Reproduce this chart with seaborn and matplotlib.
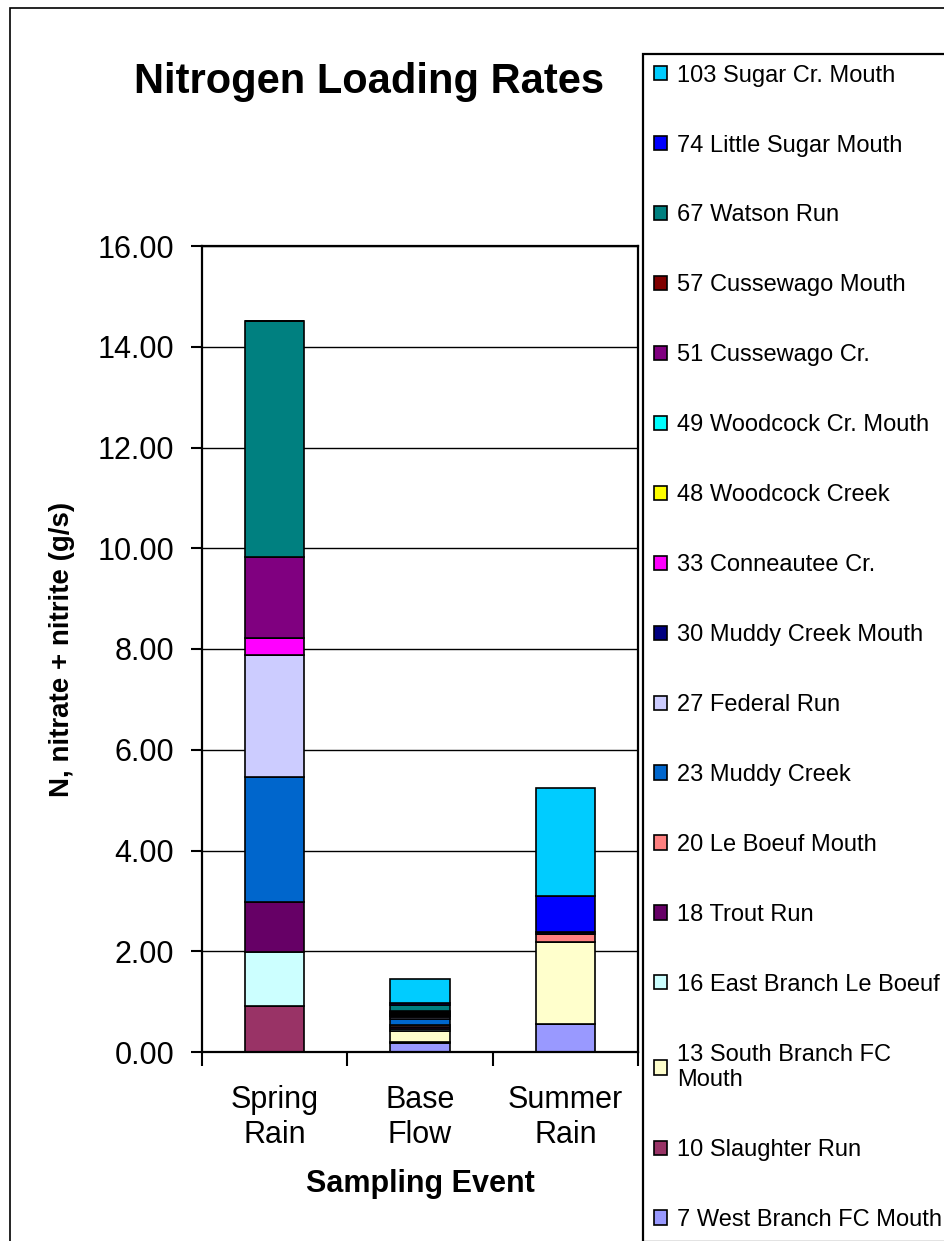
import numpy as np
import pandas as pd
import matplotlib
matplotlib.use('Agg')
import matplotlib.pyplot as plt
from matplotlib.patches import Patch, Rectangle
import seaborn as sns

# Sampling events (x categories)
events = ['Spring Rain', 'Base Flow', 'Summer Rain']
event_labels = ['Spring\nRain', 'Base\nFlow', 'Summer\nRain']

# Sites in legend order (top of legend = top of stack)
sites = ['103 Sugar Cr. Mouth', '74 Little Sugar Mouth', '67 Watson Run',
         '57 Cussewago Mouth', '51 Cussewago Cr.', '49 Woodcock Cr. Mouth',
         '48 Woodcock Creek', '33 Conneautee Cr.', '30 Muddy Creek Mouth',
         '27 Federal Run', '23 Muddy Creek', '20 Le Boeuf Mouth',
         '18 Trout Run', '16 East Branch Le Boeuf', '13 South Branch FC Mouth',
         '10 Slaughter Run', '7 West Branch FC Mouth']
legend_labels = [s if s != '13 South Branch FC Mouth' else '13 South Branch FC\nMouth'
                 for s in sites]
site_colors = ['#00CCFF', '#0000FF', '#008080', '#800000', '#800080', '#00FFFF',
               '#FFFF00', '#FF00FF', '#000080', '#CCCCFF', '#0066CC', '#FF8080',
               '#660066', '#CCFFFF', '#FFFFCC', '#993366', '#9999FF']

# N loading (g/s) per site, same order as sites
spring_rain = [0.00, 0.00, 4.69, 0.00, 1.60, 0.00, 0.00, 0.34, 0.00,
               2.43, 2.47, 0.00, 1.00, 1.07, 0.00, 0.91, 0.00]
base_flow = [0.46, 0.05, 0.11, 0.02, 0.02, 0.03, 0.02, 0.02, 0.02,
             0.03, 0.12, 0.04, 0.05, 0.04, 0.22, 0.02, 0.17]
summer_rain = [2.15, 0.72, 0.00, 0.00, 0.00, 0.00, 0.00, 0.00, 0.03,
               0.00, 0.00, 0.16, 0.00, 0.00, 1.63, 0.00, 0.56]

rows = []
for ev, vals in zip(events, [spring_rain, base_flow, summer_rain]):
    for site, v in zip(sites, vals):
        rows.append({'event': ev, 'site': site, 'load': v})
df = pd.DataFrame(rows)

sns.set_style('white')
plt.rcParams['font.family'] = ['Liberation Sans', 'DejaVu Sans']
for key in ['text.color', 'axes.labelcolor', 'xtick.color', 'ytick.color']:
    plt.rcParams[key] = 'black'

W, H = 945, 1241
fig = plt.figure(figsize=(W / 100, H / 100), dpi=100)
ax = fig.add_axes([202 / W, 1 - 1052 / H, 436 / W, 806 / H])

sns.histplot(data=df, x='event', hue='site', weights='load',
             hue_order=sites, palette=site_colors, multiple='stack',
             discrete=True, shrink=0.41, alpha=1, edgecolor='black',
             linewidth=1.2, legend=False, ax=ax)

ax.set_xlim(-0.5, 2.5)
ax.set_ylim(0, 16)
ax.set_yticks(np.arange(0, 16.01, 2))
ax.set_yticklabels([f'{v:.2f}' for v in np.arange(0, 16.01, 2)])
ax.yaxis.grid(True, color='black', linewidth=1.0)
ax.set_axisbelow(True)

ax.set_xticks([0, 1, 2])
ax.set_xticklabels(event_labels)
ax.set_xticks([-0.5, 0.5, 1.5, 2.5], minor=True)
ax.tick_params(axis='x', which='major', length=0, pad=24, labelsize=22)
ax.tick_params(axis='x', which='minor', length=10, width=1.5, direction='out',
               bottom=True, color='black')
ax.tick_params(axis='y', length=8, width=1.5, direction='out', left=True,
               pad=12, labelsize=22, color='black')

for sp in ax.spines.values():
    sp.set_visible(True)
    sp.set_color('black')
    sp.set_linewidth(1.6)

ax.set_xlabel('Sampling Event', fontsize=22, fontweight='bold', labelpad=14)
ax.set_ylabel('N, nitrate + nitrite (g/s)', fontsize=20, fontweight='bold',
              labelpad=16)

fig.text(369 / W, 1 - 82 / H, 'Nitrogen Loading Rates', fontsize=30,
         fontweight='bold', ha='center', va='center')

handles = [Patch(facecolor=c, edgecolor='black', linewidth=1.2) for c in site_colors]
leg = fig.legend(handles, legend_labels, loc='upper left',
                 bbox_to_anchor=(643 / W, 1 - 54 / H), borderaxespad=0,
                 fontsize=17, frameon=True, fancybox=False, framealpha=1,
                 edgecolor='black', handlelength=0.55, handleheight=0.55,
                 handletextpad=0.45, labelspacing=2.03, borderpad=0.45)
leg.get_frame().set_linewidth(1.6)

# outer chart-area border
fig.patches.append(Rectangle((10 / W, -0.05), 1.0, 1.05 - 8 / H,
                             transform=fig.transFigure, fill=False,
                             edgecolor='black', linewidth=1.2))

fig.savefig('out.png', dpi=100)
